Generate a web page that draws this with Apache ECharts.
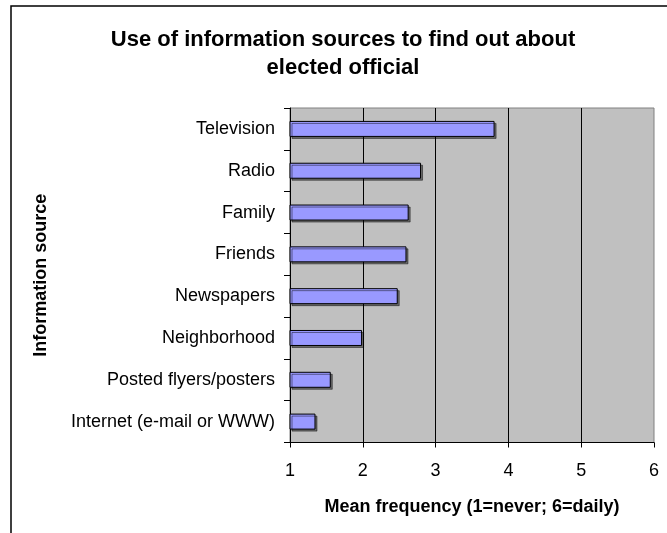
<!DOCTYPE html>
<html>
<head>
<meta charset="utf-8">
<script src="https://cdn.jsdelivr.net/npm/echarts@6/dist/echarts.min.js"></script>
<style>
  html, body { margin: 0; padding: 0; background: #fff; }
  #chart { width: 667px; height: 533px; }
</style>
</head>
<body>
<div id="chart"></div>
<script>
// Information sources, top to bottom
const sources = [
  'Television',
  'Radio',
  'Family',
  'Friends',
  'Newspapers',
  'Neighborhood',
  'Posted flyers/posters',
  'Internet (e-mail or WWW)'
];
// Mean frequency of use (1 = never, 6 = daily)
const meanFrequency = [3.81, 2.80, 2.63, 2.60, 2.48, 1.99, 1.56, 1.35];
// Frequency scale ticks
const scaleMin = 1;
const scaleMax = 6;
const scaleStep = 1;

const FONT = '"Liberation Sans", Arial, sans-serif';

const chart = echarts.init(document.getElementById('chart'), null, { renderer: 'canvas' });

chart.setOption({
  animation: false,
  backgroundColor: '#ffffff',
  title: {
    text: 'Use of information sources to find out about\nelected official',
    left: 343,
    top: 26,
    padding: 0,
    textAlign: 'center',
    textStyle: {
      fontFamily: FONT,
      fontSize: 22,
      fontWeight: 'bold',
      color: '#000',
      lineHeight: 28
    }
  },
  graphic: [
    {
      type: 'rect',
      silent: true,
      z: -1,
      shape: { x: 11, y: 6, width: 700, height: 600 },
      style: { fill: 'none', stroke: '#000', lineWidth: 1.5 }
    }
  ],
  grid: {
    left: 290,
    right: 13,
    top: 108,
    bottom: 90.5,
    show: true,
    backgroundColor: '#C0C0C0',
    borderColor: '#808080',
    borderWidth: 1
  },
  xAxis: {
    type: 'value',
    min: scaleMin,
    max: scaleMax,
    interval: scaleStep,
    name: 'Mean frequency (1=never; 6=daily)',
    nameLocation: 'middle',
    nameGap: 56,
    nameTextStyle: {
      fontFamily: FONT,
      fontSize: 18,
      fontWeight: 'bold',
      color: '#000'
    },
    axisLine: { show: true, lineStyle: { color: '#000', width: 1 } },
    axisTick: { show: true, length: 5, lineStyle: { color: '#000' } },
    axisLabel: {
      margin: 20,
      fontFamily: FONT,
      fontSize: 18,
      color: '#000'
    },
    splitLine: {
      show: true,
      showMinLine: false,
      showMaxLine: false,
      lineStyle: { color: '#000', width: 1 }
    }
  },
  yAxis: {
    type: 'category',
    data: sources,
    inverse: true,
    name: 'Information source',
    nameLocation: 'middle',
    nameGap: 240,
    nameRotate: 90,
    nameTextStyle: {
      fontFamily: FONT,
      fontSize: 18,
      fontWeight: 'bold',
      color: '#000'
    },
    axisLine: { show: true, lineStyle: { color: '#000', width: 1 } },
    axisTick: { show: true, length: 6, alignWithLabel: false, lineStyle: { color: '#000' } },
    axisLabel: {
      margin: 15,
      fontFamily: FONT,
      fontSize: 18,
      color: '#000'
    },
    splitLine: { show: false }
  },
  series: [
    {
      type: 'bar',
      data: meanFrequency,
      barWidth: 16,
      itemStyle: {
        color: '#9999FF',
        borderColor: '#000',
        borderWidth: 1,
        shadowColor: 'rgba(0,0,0,0.45)',
        shadowOffsetX: 2,
        shadowOffsetY: 2,
        shadowBlur: 0
      },
      emphasis: { disabled: true }
    }
  ]
});
</script>
</body>
</html>
